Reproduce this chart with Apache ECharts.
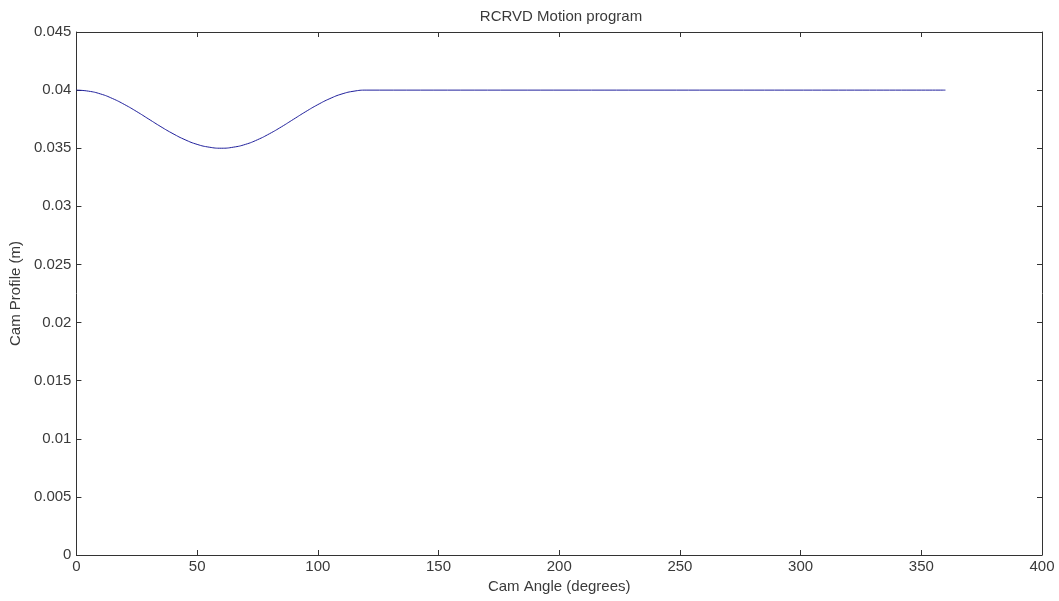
<!DOCTYPE html>
<html>
<head>
<meta charset="utf-8">
<title>RCRVD Motion program</title>
<script src="https://cdn.jsdelivr.net/npm/echarts@6/dist/echarts.min.js"></script>
<style>
  html, body { margin: 0; padding: 0; background: #fff; }
  #chart { width: 1059px; height: 601px; }
</style>
</head>
<body>
<div id="chart"></div>
<script>
  'use strict';

  // cam angle (deg) and cam profile (m)
  const camAngle = [0, 5, 10, 15, 20, 25, 30, 35, 40, 45, 50, 55, 60,
    65, 70, 75, 80, 85, 90, 95, 100, 105, 110, 115, 120, 360];
  const camProfile = [0.04, 0.03991, 0.03967, 0.03927, 0.03875, 0.03815, 0.0375, 0.03685, 0.03625, 0.03573, 0.03533, 0.03509, 0.035,
    0.03509, 0.03533, 0.03573, 0.03625, 0.03685, 0.0375, 0.03815, 0.03875, 0.03927, 0.03967, 0.03991, 0.04, 0.04];

  const xTicks = [0, 50, 100, 150, 200, 250, 300, 350, 400];
  const yTicks = [0, 0.005, 0.01, 0.015, 0.02, 0.025, 0.03, 0.035, 0.04, 0.045];

  const chartTitle = 'RCRVD Motion program';
  const xName = 'Cam Angle (degrees)';
  const yName = 'Cam Profile (m)';

  const font = 'Arial, "Liberation Sans", sans-serif';
  const axisColor = '#333';
  const textColor = '#3a3a3a';
  const fontSize = 15;

  const points = camAngle.map((a, i) => [a, camProfile[i]]);

  function axisBase(ticks) {
    return {
      min: ticks[0],
      max: ticks[ticks.length - 1],
      interval: ticks[1] - ticks[0],
      axisLine: { show: true, onZero: false, lineStyle: { color: axisColor, width: 1 } },
      axisTick: { show: true, inside: true, length: 5, lineStyle: { color: axisColor } },
      splitLine: { show: false }
    };
  }

  const chart = echarts.init(document.getElementById('chart'), null, { renderer: 'canvas' });

  chart.setOption({
    animation: false,
    backgroundColor: '#fff',
    title: {
      text: chartTitle,
      left: 556,
      top: 4,
      textAlign: 'center',
      textStyle: { fontFamily: font, fontSize: fontSize, fontWeight: 'normal', color: textColor }
    },
    grid: { left: 76, right: 17, top: 32, bottom: 46, containLabel: false },
    xAxis: [
      Object.assign(axisBase(xTicks), {
        type: 'value',
        position: 'bottom',
        name: xName,
        nameLocation: 'middle',
        nameGap: 20,
        nameTextStyle: { fontFamily: font, fontSize: fontSize, color: textColor },
        axisLabel: { fontFamily: font, fontSize: fontSize, color: textColor, margin: 4 }
      }),
      Object.assign(axisBase(xTicks), {
        type: 'value',
        position: 'top',
        axisLabel: { show: false }
      })
    ],
    yAxis: [
      Object.assign(axisBase(yTicks), {
        type: 'value',
        position: 'left',
        name: yName,
        nameLocation: 'middle',
        nameGap: 51,
        nameRotate: 90,
        nameTextStyle: { fontFamily: font, fontSize: fontSize, color: textColor },
        axisLabel: {
          fontFamily: font, fontSize: fontSize, color: textColor, margin: 5,
          formatter: (v) => String(+v.toFixed(3))
        }
      }),
      Object.assign(axisBase(yTicks), {
        type: 'value',
        position: 'right',
        axisLabel: { show: false }
      })
    ],
    series: [
      {
        name: 'Cam Profile',
        type: 'line',
        xAxisIndex: 0,
        yAxisIndex: 0,
        data: points,
        smooth: true,
        showSymbol: false,
        lineStyle: { color: '#1f1f9c', width: 1 }
      }
    ]
  });
</script>
</body>
</html>
